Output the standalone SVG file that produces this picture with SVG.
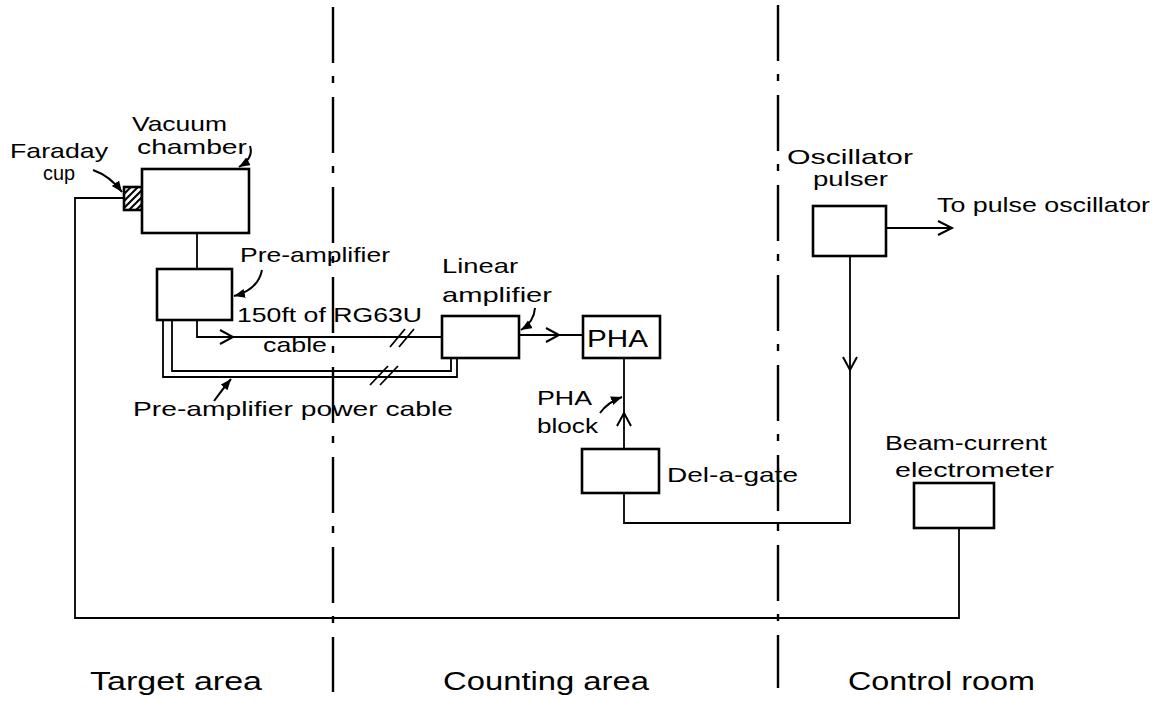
<svg xmlns="http://www.w3.org/2000/svg" width="1172" height="701" viewBox="0 0 1172 701">
<style>
.box{fill:#fff;stroke:#000;stroke-width:2.6}
.ln{fill:none;stroke:#000;stroke-width:1.8}
.ch{fill:none;stroke:#000;stroke-width:2}
.div{fill:none;stroke:#000;stroke-width:2.4;stroke-dasharray:56 13 7 14}
.pt{fill:none;stroke:#000;stroke-width:2;marker-end:url(#tip)}
text{font-family:"Liberation Sans",Arial,sans-serif;font-size:21px;fill:#000}
.big{font-size:25px}
</style>
<defs>
<marker id="tip" markerUnits="userSpaceOnUse" markerWidth="12" markerHeight="10" refX="11" refY="4.5" orient="auto">
<path d="M0,0 L11,4.5 L0,9 z" fill="#000"/>
</marker>
<clipPath id="cupclip"><rect x="124" y="187" width="18" height="23"/></clipPath>
</defs>
<rect width="1172" height="701" fill="#fff"/>

<g id="dividers">
<line class="div" x1="333" y1="7" x2="333" y2="692"/>
<line class="div" x1="778" y1="5" x2="778" y2="688"/>
</g>

<g id="connectors">
<polyline class="ln" points="124,198 75,198 75,618 959,618 959,528"/>
<line class="ln" x1="197" y1="233" x2="197" y2="269"/>
<polyline class="ln" points="197,320 197,337 442,337"/>
<polyline class="ch" points="220,330 233,337 220,344"/>
<line class="ln" x1="390" y1="347" x2="405" y2="329"/>
<line class="ln" x1="399" y1="347" x2="414" y2="329"/>
<polyline class="ln" points="163,320 163,377 457,377 457,358"/>
<polyline class="ln" points="172,320 172,371 451,371 451,358"/>
<line class="ln" x1="370" y1="385" x2="388" y2="366"/>
<line class="ln" x1="380" y1="385" x2="398" y2="366"/>
<line class="ln" x1="519" y1="335" x2="583" y2="335"/>
<polyline class="ch" points="546,328 559,335 546,342"/>
<line class="ln" x1="624" y1="358" x2="624" y2="449"/>
<polyline class="ch" points="617,426 624,413 631,426"/>
<polyline class="ln" points="624,493 624,523 850,523 850,256"/>
<polyline class="ch" points="843,357 850,370 857,357"/>
<line class="ln" x1="886" y1="228" x2="952" y2="228"/>
<polyline class="ch" points="938,221 952,228 938,235"/>
</g>

<g id="pointers">
<path class="pt" d="M93,170 Q110,176 122,192"/>
<path class="pt" d="M250,146 Q254,158 239,167"/>
<path class="pt" d="M262,270 Q258,290 234,296"/>
<path class="pt" d="M535,308 Q534,322 521,330"/>
<path class="pt" d="M214,401 Q222,390 231,379"/>
<path class="pt" d="M600,413 Q608,402 622,397"/>
</g>

<g id="faraday-cup">
<rect class="box" x="124" y="187" width="18" height="23"/>
<g clip-path="url(#cupclip)" stroke="#000" stroke-width="2">
<line x1="118" y1="200" x2="140" y2="178"/>
<line x1="118" y1="207" x2="144" y2="181"/>
<line x1="118" y1="214" x2="148" y2="184"/>
<line x1="122" y1="217" x2="150" y2="189"/>
<line x1="128" y1="218" x2="150" y2="196"/>
<line x1="134" y1="219" x2="152" y2="201"/>
</g>
<text x="10" y="158" textLength="98" lengthAdjust="spacingAndGlyphs">Faraday</text>
<text x="43" y="180" textLength="32" lengthAdjust="spacingAndGlyphs">cup</text>
</g>

<g id="vacuum-chamber">
<rect class="box" x="142" y="169" width="107" height="64"/>
<text x="132" y="131" textLength="95" lengthAdjust="spacingAndGlyphs">Vacuum</text>
<text x="137" y="154" textLength="110" lengthAdjust="spacingAndGlyphs">chamber</text>
</g>

<g id="pre-amplifier">
<rect class="box" x="157" y="269" width="75" height="51"/>
<text x="240" y="262" textLength="150" lengthAdjust="spacingAndGlyphs">Pre-amplifier</text>
</g>

<g id="cable-labels">
<text x="237" y="322" textLength="185" lengthAdjust="spacingAndGlyphs">150ft of RG63U</text>
<text x="263" y="352" textLength="64" lengthAdjust="spacingAndGlyphs">cable</text>
<text x="133" y="416" textLength="320" lengthAdjust="spacingAndGlyphs">Pre-amplifier power cable</text>
</g>

<g id="linear-amplifier">
<rect class="box" x="442" y="316" width="77" height="42"/>
<text x="442" y="273" textLength="76" lengthAdjust="spacingAndGlyphs">Linear</text>
<text x="442" y="302" textLength="110" lengthAdjust="spacingAndGlyphs">amplifier</text>
</g>

<g id="pha">
<rect class="box" x="583" y="316" width="77" height="42"/>
<text x="587" y="347" textLength="61" lengthAdjust="spacingAndGlyphs" style="font-size:24px">PHA</text>
<text x="537" y="405" textLength="55" lengthAdjust="spacingAndGlyphs">PHA</text>
<text x="537" y="433" textLength="61" lengthAdjust="spacingAndGlyphs">block</text>
</g>

<g id="del-a-gate">
<rect class="box" x="582" y="449" width="77" height="44"/>
<text x="667" y="482" textLength="131" lengthAdjust="spacingAndGlyphs">Del-a-gate</text>
</g>

<g id="oscillator-pulser">
<rect class="box" x="813" y="206" width="73" height="50"/>
<text x="787" y="164" textLength="126" lengthAdjust="spacingAndGlyphs">Oscillator</text>
<text x="813" y="186" textLength="75" lengthAdjust="spacingAndGlyphs">pulser</text>
<text x="937" y="212" textLength="213" lengthAdjust="spacingAndGlyphs">To pulse oscillator</text>
</g>

<g id="electrometer">
<rect class="box" x="914" y="483" width="80" height="45"/>
<text x="885" y="450" textLength="162" lengthAdjust="spacingAndGlyphs">Beam-current</text>
<text x="895" y="477" textLength="159" lengthAdjust="spacingAndGlyphs">electrometer</text>
</g>

<g id="area-labels">
<text class="big" x="90" y="690" textLength="172" lengthAdjust="spacingAndGlyphs">Target area</text>
<text class="big" x="443" y="690" textLength="206" lengthAdjust="spacingAndGlyphs">Counting area</text>
<text class="big" x="848" y="690" textLength="187" lengthAdjust="spacingAndGlyphs">Control room</text>
</g>
</svg>
